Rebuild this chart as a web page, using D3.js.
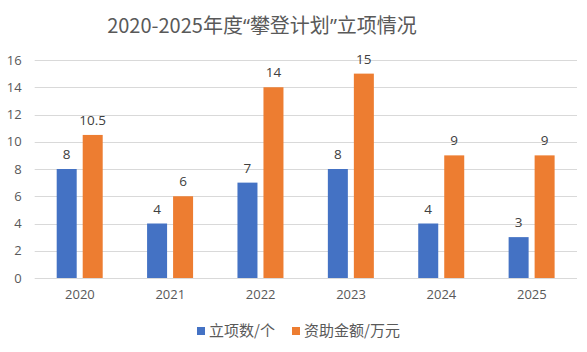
<!DOCTYPE html>
<html lang="zh">
<head>
<meta charset="utf-8">
<script src="https://d3js.org/d3.v7.min.js"></script>
<style>
  body { margin: 0; background: #fff; }
  text { font-family: "Noto Sans CJK SC", "Open Sans", sans-serif; }
</style>
</head>
<body>
<svg id="chart" width="587" height="352"></svg>
<script>
// data
const years = ["2020", "2021", "2022", "2023", "2024", "2025"]
const seriesNames = ["立项数/个", "资助金额/万元"]
const projectCounts = [8, 4, 7, 8, 4, 3]
const fundingAmounts = [10.5, 6, 14, 15, 9, 9]
const yTicks = [0, 2, 4, 6, 8, 10, 12, 14, 16]

const colors = ["#4472c4", "#ed7d31"]
const svg = d3.select("#chart")

const plot = {left: 34.7, right: 577, top: 60, bottom: 278}

const x0 = d3.scaleBand().domain(years).range([plot.left, plot.right]).padding(0)
const x1 = d3.scaleBand().domain(seriesNames).range([22, 68]).paddingInner(6 / 26).paddingOuter(0)
const y = d3.scaleLinear().domain([0, 16]).range([plot.bottom, plot.top])

// title - quotes set in a latin font so they stay narrow
const title = svg.append("text")
  .attr("x", 262).attr("y", 33)
  .attr("text-anchor", "middle")
  .attr("font-size", 20)
  .attr("fill", "#595959")
title.append("tspan").text("2020-2025年度")
title.append("tspan").style("font-family", "'Open Sans', sans-serif").text("“")
title.append("tspan").text("攀登计划")
title.append("tspan").style("font-family", "'Open Sans', sans-serif").text("”")
title.append("tspan").text("立项情况")

// gridlines
svg.append("g")
  .selectAll("line")
  .data(yTicks)
  .join("line")
    .attr("x1", plot.left).attr("x2", plot.right)
    .attr("y1", d => Math.round(y(d)) + 0.5).attr("y2", d => Math.round(y(d)) + 0.5)
    .attr("stroke", "#d9d9d9").attr("stroke-width", 1)

// y axis labels
const yAxis = svg.append("g")
  .attr("transform", `translate(${plot.left},0)`)
  .call(d3.axisLeft(y).tickValues(yTicks).tickSize(0).tickPadding(13))
yAxis.select(".domain").remove()
yAxis.selectAll("text")
  .attr("font-size", 13).attr("fill", "#595959")
  .style("font-family", "'Open Sans', sans-serif")

// x axis labels
const xAxis = svg.append("g")
  .attr("transform", `translate(0,${plot.bottom})`)
  .call(d3.axisBottom(x0).tickSize(0).tickPadding(12))
xAxis.select(".domain").remove()
xAxis.selectAll("text")
  .attr("font-size", 13).attr("fill", "#595959")
  .style("font-family", "'Open Sans', sans-serif")

const rows = years.map((yr, i) => ({
  year: yr,
  values: [
    {name: seriesNames[0], value: projectCounts[i], color: colors[0]},
    {name: seriesNames[1], value: fundingAmounts[i], color: colors[1]}
  ]
}))

const groups = svg.append("g")
  .selectAll("g")
  .data(rows)
  .join("g")
    .attr("transform", d => `translate(${x0(d.year)},0)`)

groups.selectAll("rect")
  .data(d => d.values)
  .join("rect")
    .attr("x", d => x1(d.name))
    .attr("y", d => y(d.value))
    .attr("width", x1.bandwidth())
    .attr("height", d => y(0) - y(d.value))
    .attr("fill", d => d.color)

groups.selectAll("text.lbl")
  .data(d => d.values)
  .join("text")
    .attr("class", "lbl")
    .attr("x", d => x1(d.name) + x1.bandwidth() / 2)
    .attr("y", d => y(d.value) - 10)
    .attr("text-anchor", "middle")
    .attr("font-size", 13.5)
    .attr("fill", "#404040")
    .style("font-family", "'Open Sans', sans-serif")
    .text(d => d.value)

// legend
const legendX = [197, 292]
const legend = svg.append("g")
  .selectAll("g")
  .data(seriesNames)
  .join("g")
    .attr("transform", (d, i) => `translate(${legendX[i]},327)`)
legend.append("rect")
  .attr("width", 8).attr("height", 8)
  .attr("fill", (d, i) => colors[i])
legend.append("text")
  .attr("x", 12).attr("y", 9)
  .attr("font-size", 15)
  .attr("fill", "#595959")
  .text(d => d)
</script>
</body>
</html>
